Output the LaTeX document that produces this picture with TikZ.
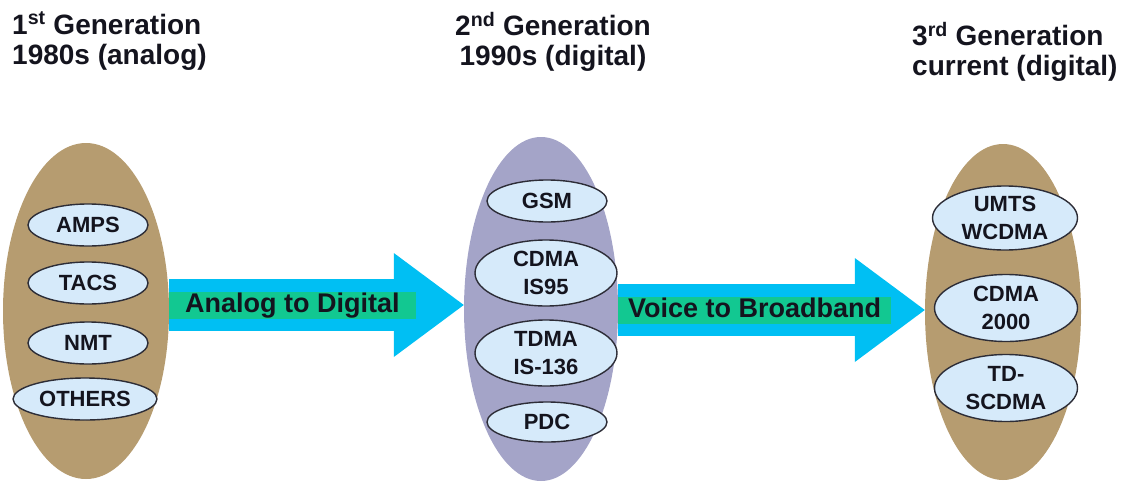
\documentclass[tikz,border=0pt]{standalone}
\usepackage{fontspec}
\setmainfont{Liberation Sans}
\usetikzlibrary{arrows.meta,positioning,shapes.geometric}
\definecolor{gentan}{RGB}{182,156,112}
\definecolor{genlav}{RGB}{164,164,200}
\definecolor{techblue}{RGB}{214,234,250}
\definecolor{techline}{RGB}{45,45,55}
\definecolor{shiftcyan}{RGB}{0,191,243}
\definecolor{taggreen}{RGB}{18,200,145}
\definecolor{inkdark}{RGB}{20,20,30}

\begin{document}
\begin{tikzpicture}[x=1pt,y=-1pt,
  gen/.style={ellipse,inner sep=0pt},
  tech/.style={ellipse,draw=techline,line width=1.4pt,fill=techblue,inner sep=0pt,align=center,
    text=inkdark,font=\fontsize{22}{28}\selectfont\bfseries},
  title/.style={inner sep=0pt,text=inkdark,font=\fontsize{28}{30}\selectfont\bfseries},
  genarrow/.style={draw=shiftcyan,line width=52pt,
    -{Triangle[length=70pt,width=104pt,line width=0pt]}},
  tag/.style={fill=taggreen,inner xsep=16pt,inner ysep=0pt,outer sep=0pt,minimum height=27pt,
    text height=19pt,text depth=5pt,text=inkdark,font=\fontsize{27}{30}\selectfont\bfseries}]
\useasboundingbox (0,0) rectangle (1135,482);
% generation titles
\node[title,anchor=north west,align=left] (t1) at (12,12) {1\textsuperscript{st} Generation\\1980s (analog)};
\node[title,anchor=north,align=center] (t2) at (553,12) {2\textsuperscript{nd} Generation\\1990s (digital)};
\node[title,anchor=north west,align=left] (t3) at (912,22) {3\textsuperscript{rd} Generation\\current (digital)};
% big ellipses
\node[gen,fill=gentan,minimum width=166pt,minimum height=336pt] (gen1) at (86,311) {};
\node[gen,fill=genlav,minimum width=154pt,minimum height=344pt] (gen2) at (541,309) {};
\node[gen,fill=gentan,minimum width=156pt,minimum height=336pt] (gen3) at (1003,312) {};
% transitions
\coordinate (a1) at ([yshift=6pt]gen1.east);
\draw[genarrow] (a1) -- (a1 -| gen2.west) node[tag,pos=0,anchor=west] (l1) {Analog to Digital};
\coordinate (a2) at ([yshift=-1pt]gen2.east);
\draw[genarrow] (a2) -- (a2 -| gen3.west) node[tag,pos=0,anchor=west,inner xsep=10pt] (l2) {Voice to Broadband};
% 1G systems
\node[tech,minimum width=120pt,minimum height=42pt] (amps) at (88,225) {AMPS};
\node[tech,minimum width=120pt,minimum height=42pt] (tacs) at (88,283) {TACS};
\node[tech,minimum width=120pt,minimum height=42pt] (nmt) at (88,343) {NMT};
\node[tech,minimum width=144pt,minimum height=42pt] (others) at (85,399) {OTHERS};
% 2G systems
\node[tech,minimum width=120pt,minimum height=42pt] (gsm) at (547,201) {GSM};
\node[tech,minimum width=142pt,minimum height=66pt] (cdma) at (546,273) {CDMA\\IS95};
\node[tech,minimum width=142pt,minimum height=66pt] (tdma) at (546,353) {TDMA\\IS-136};
\node[tech,minimum width=120pt,minimum height=40pt] (pdc) at (547,422) {PDC};
% 3G systems
\node[tech,minimum width=145pt,minimum height=64pt] (umts) at (1005,218) {UMTS\\WCDMA};
\node[tech,minimum width=143pt,minimum height=67pt] (cdma2k) at (1006,308) {CDMA\\2000};
\node[tech,minimum width=143pt,minimum height=67pt] (tds) at (1006,388) {TD-\\SCDMA};
\end{tikzpicture}
\end{document}
